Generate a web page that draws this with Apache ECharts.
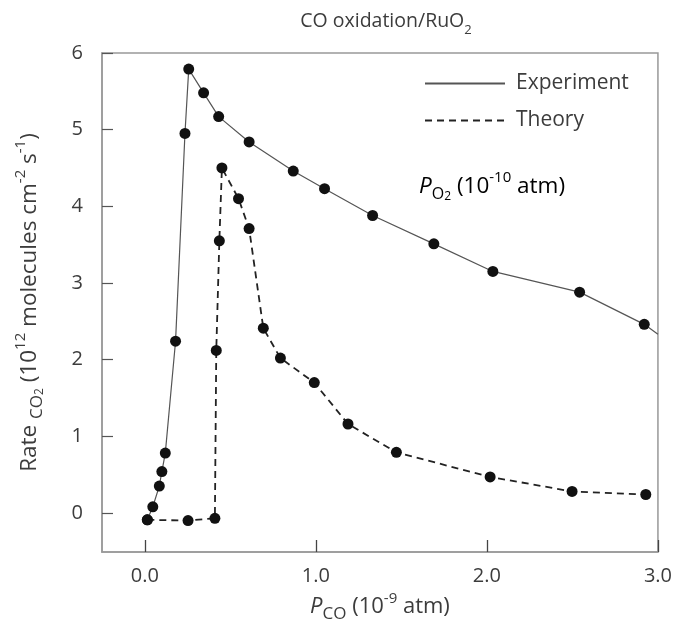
<!DOCTYPE html>
<html>
<head>
<meta charset="utf-8">
<script src="https://cdn.jsdelivr.net/npm/echarts@6/dist/echarts.min.js"></script>
<style>
  html, body { margin: 0; padding: 0; background: #fff; }
  #chart { width: 675px; height: 629px; }
</style>
</head>
<body>
<div id="chart"></div>
<script>
// values (x: P_CO in 1e-9 atm, y: rate in 1e12 molecules cm^-2 s^-1)
const expX = [0.015, 0.047, 0.085, 0.10, 0.12, 0.18, 0.235, 0.257, 0.344, 0.432, 0.61, 0.868, 1.051, 1.332, 1.69, 2.035, 2.542, 2.92, 3.0];
const expY = [-0.09, 0.08, 0.35, 0.54, 0.78, 2.24, 4.95, 5.79, 5.48, 5.17, 4.84, 4.46, 4.23, 3.88, 3.51, 3.15, 2.88, 2.46, 2.33];
const theoryX = [0.015, 0.253, 0.41, 0.418, 0.436, 0.451, 0.548, 0.61, 0.693, 0.793, 0.991, 1.188, 1.471, 2.019, 2.498, 2.929];
const theoryY = [-0.09, -0.10, -0.07, 2.12, 3.55, 4.50, 4.10, 3.71, 2.41, 2.02, 1.70, 1.16, 0.79, 0.47, 0.28, 0.24];
const xTicks = [0, 1, 2, 3];
const yTicks = [0, 1, 2, 3, 4, 5, 6];

const FONT = '"Open Sans", "Noto Sans", sans-serif';
const TXT = '#3c3c3c';

// last experiment value is where the curve runs into the frame, no dot there
const expData = expX.map((x, i) =>
  i === expX.length - 1 ? { value: [x, expY[i]], symbol: 'none' } : [x, expY[i]]);
const theoryData = theoryX.map((x, i) => [x, theoryY[i]]);

function richSet(main, sub, sup, sub2) {
  return {
    n: { fontSize: main, lineHeight: main + 10, color: TXT, fontFamily: FONT, fontWeight: 'normal' },
    i: { fontSize: main, lineHeight: main + 10, color: TXT, fontFamily: FONT, fontStyle: 'italic', fontWeight: 'normal' },
    sub: { fontSize: sub, lineHeight: sub + 1, color: TXT, fontFamily: FONT, verticalAlign: 'bottom', fontWeight: 'normal' },
    sub2: { fontSize: sub2, lineHeight: sub2 - 1, color: TXT, fontFamily: FONT, verticalAlign: 'bottom', fontWeight: 'normal' },
    sup: { fontSize: sup, lineHeight: sup + 2, color: TXT, fontFamily: FONT, verticalAlign: 'top', fontWeight: 'normal' }
  };
}

const chart = echarts.init(document.getElementById('chart'));
chart.setOption({
  animation: false,
  backgroundColor: '#fff',
  textStyle: { fontFamily: FONT, color: TXT },
  title: {
    text: '{n|CO oxidation/RuO}{sub|2}',
    left: 381,
    textAlign: 'center',
    top: 2,
    textStyle: { fontWeight: 'normal', rich: richSet(19.5, 13, 12, 10) }
  },
  legend: {
    orient: 'vertical',
    left: 419,
    top: 68,
    itemWidth: 80,
    itemHeight: 24,
    itemGap: 16,
    itemStyle: { opacity: 0 },
    textStyle: { fontSize: 21, color: TXT, fontFamily: FONT, padding: [0, 0, 0, 6] },
    data: ['Experiment', 'Theory']
  },
  grid: {
    left: 102, right: 15, top: 53, bottom: 77,
    show: true, borderColor: '#999', borderWidth: 1.5
  },
  xAxis: {
    type: 'value',
    min: -0.25,
    max: 3,
    name: '{i|P}{sub|CO}{n| (10}{sup|-9}{n| atm)}',
    nameLocation: 'middle',
    nameGap: 38,
    nameTextStyle: { rich: richSet(22, 17, 15, 12) },
    axisLine: { onZero: false, lineStyle: { color: '#999', width: 1.5 } },
    axisTick: { inside: true, length: 12, customValues: xTicks, lineStyle: { color: '#444', width: 1.3 } },
    axisLabel: {
      customValues: xTicks, margin: 14, fontSize: 20, color: TXT, fontFamily: FONT,
      formatter: v => v.toFixed(1)
    },
    splitLine: { show: false }
  },
  yAxis: {
    type: 'value',
    min: -0.51,
    max: 6,
    name: '{n|Rate }{sub|CO}{sub2|2}{n| (10}{sup|12}{n| molecules cm}{sup|-2}{n| s}{sup|-1}{n|)}',
    nameLocation: 'middle',
    nameRotate: 90,
    nameGap: 56,
    nameTextStyle: { rich: richSet(22.5, 17, 15, 12) },
    axisLine: { show: true, onZero: false, lineStyle: { color: '#999', width: 1.5 } },
    axisTick: { show: true, inside: true, length: 11, customValues: yTicks, lineStyle: { color: '#555', width: 1.2 } },
    axisLabel: { customValues: yTicks, margin: 19, fontSize: 20, color: TXT, fontFamily: FONT },
    splitLine: { show: false }
  },
  graphic: [{
    type: 'text',
    left: 419,
    top: 170,
    style: {
      text: '{i|P}{sub|O}{sub2|2}{n| (10}{sup|-10}{n| atm)}',
      rich: richSet(22.5, 16, 15, 12)
    }
  }],
  series: [
    {
      name: 'Experiment',
      type: 'line',
      data: expData,
      symbol: 'circle',
      symbolSize: 11,
      itemStyle: { color: '#111' },
      lineStyle: { color: '#555', width: 1.2 },
      z: 3
    },
    {
      name: 'Theory',
      type: 'line',
      data: theoryData,
      symbol: 'circle',
      symbolSize: 11,
      itemStyle: { color: '#111' },
      lineStyle: { color: '#222', width: 1.8, type: [7, 5] },
      z: 2
    }
  ]
});
</script>
</body>
</html>
